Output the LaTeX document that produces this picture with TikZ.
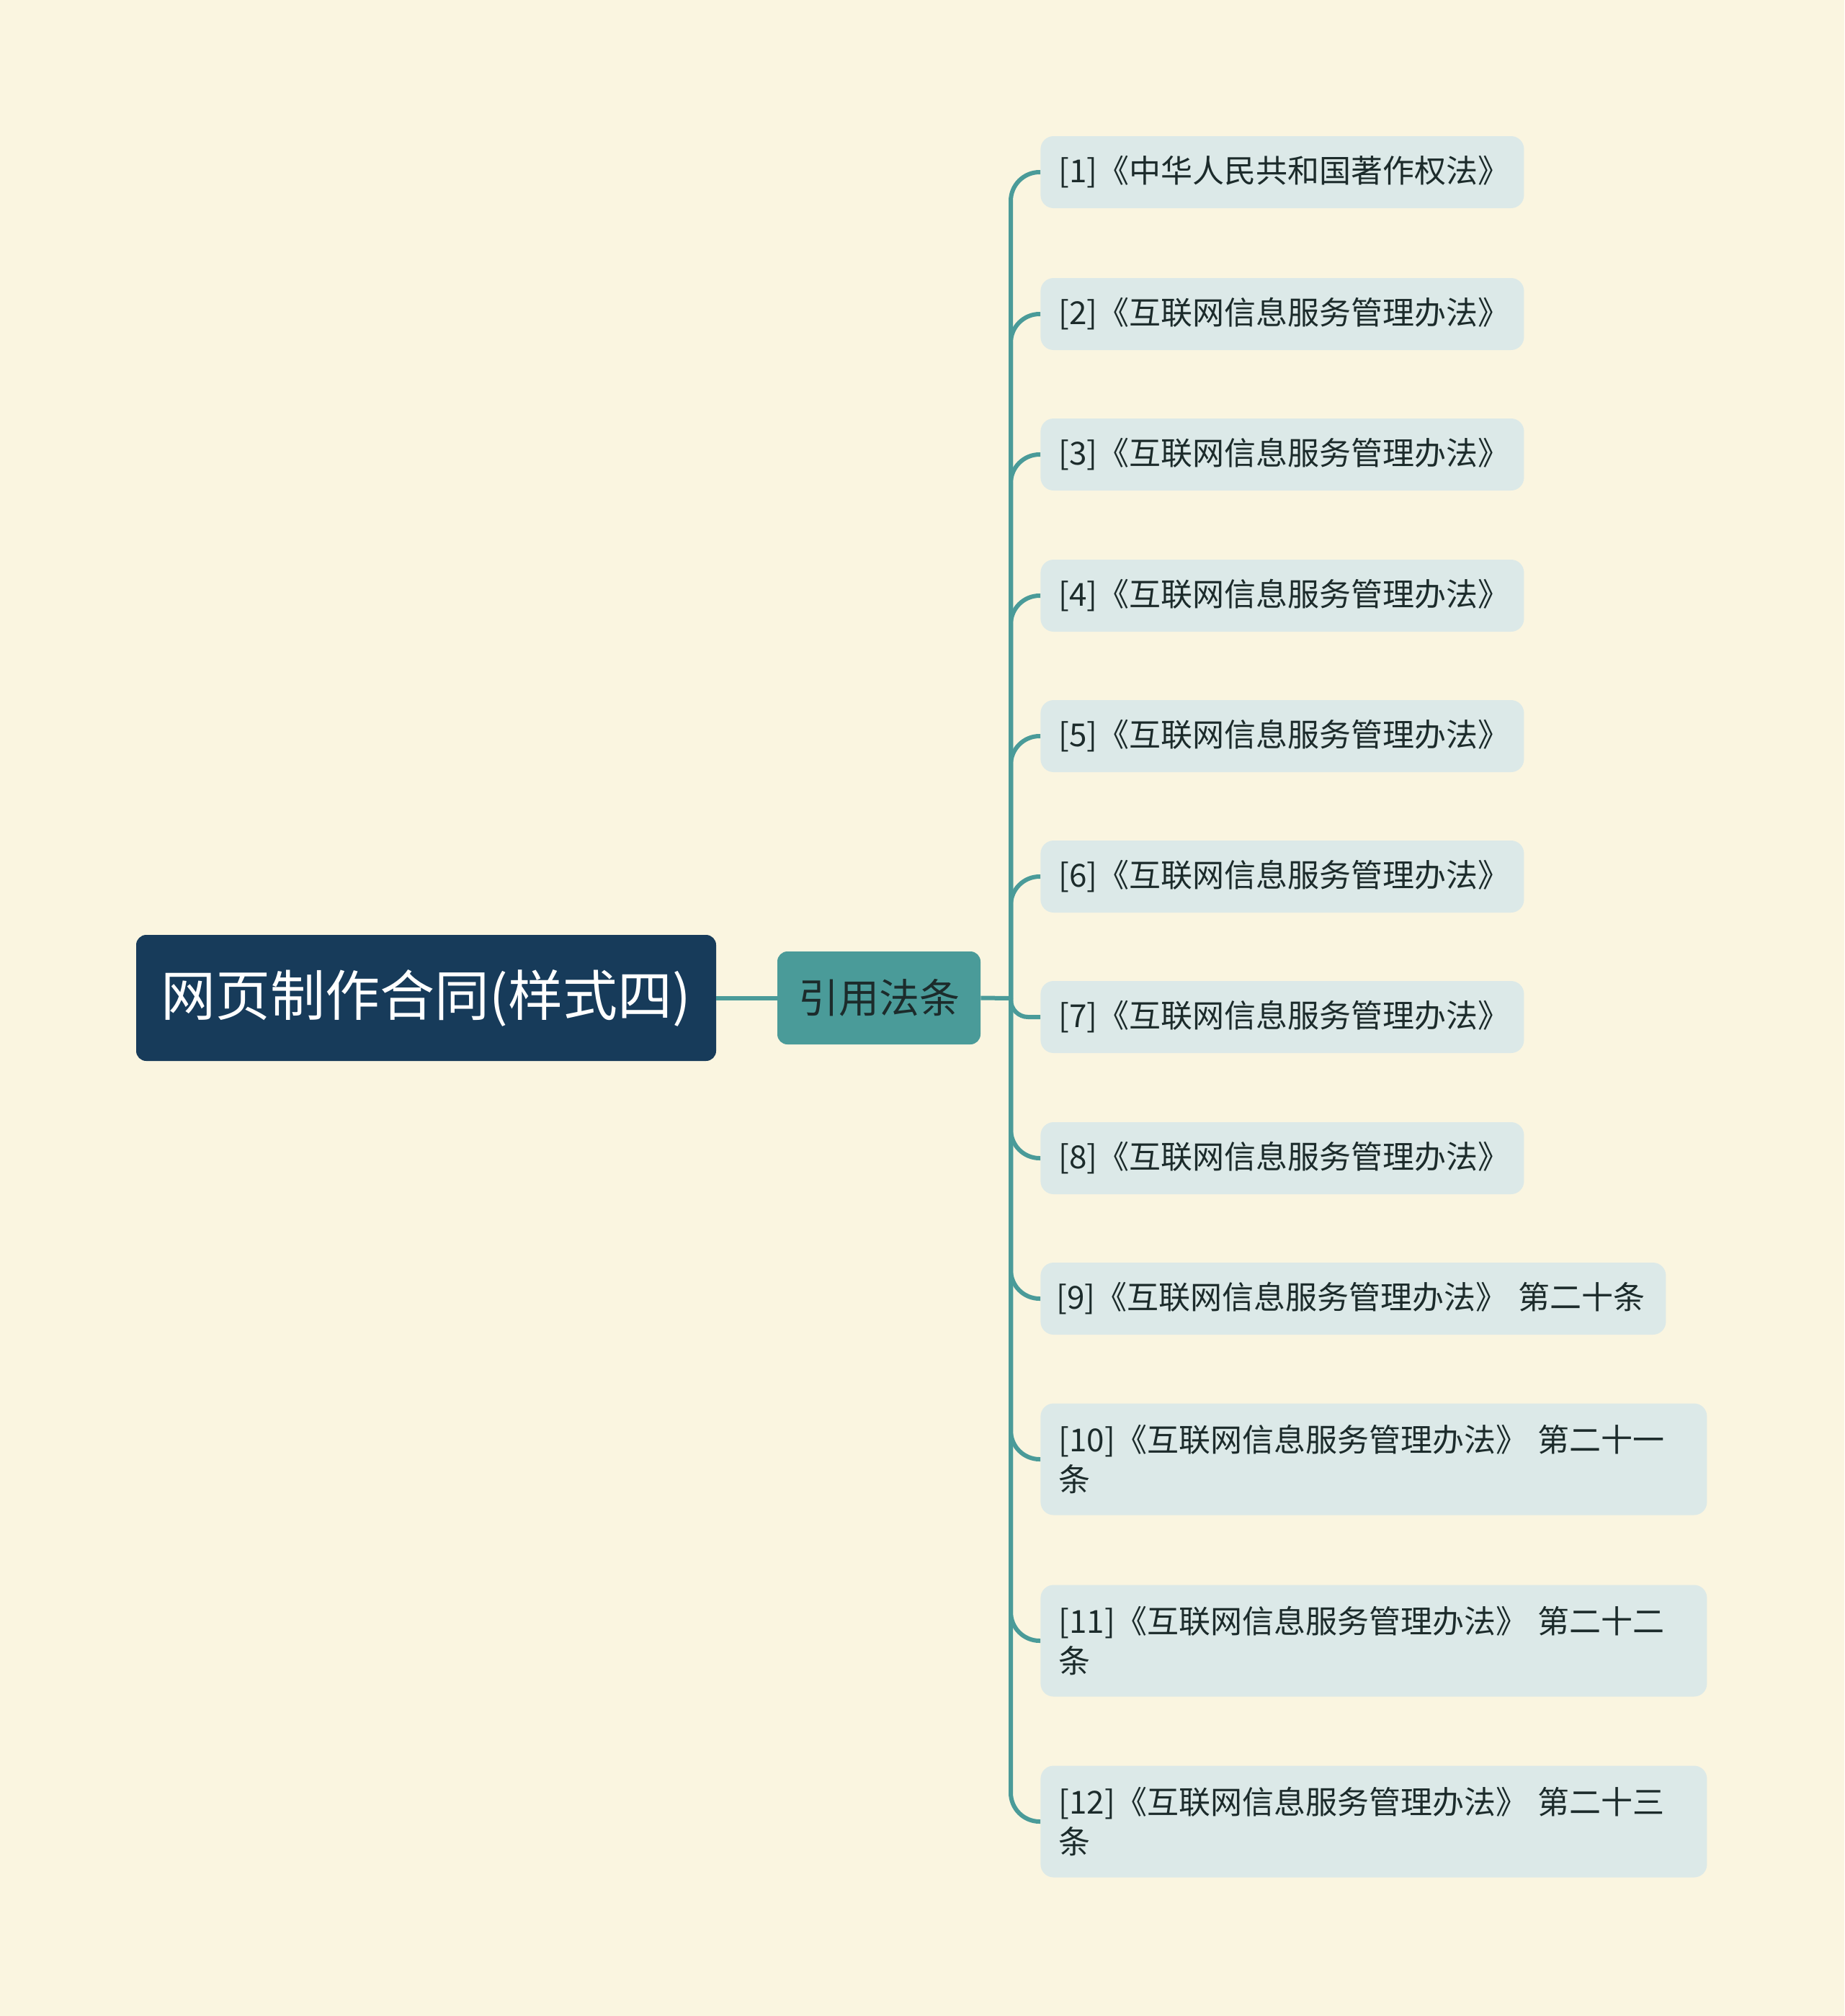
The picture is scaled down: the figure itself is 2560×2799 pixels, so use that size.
\documentclass[tikz,border=0pt]{standalone}
\usepackage{fontspec}
\setmainfont{Noto Sans CJK SC}
\definecolor{bgcream}{HTML}{FAF5E0}
\definecolor{rootnavy}{HTML}{173B5A}
\definecolor{midteal}{HTML}{4A9B99}
\definecolor{leafblue}{HTML}{DCE9E8}
\definecolor{inkdark}{HTML}{1C2B2B}
\begin{document}
\begin{tikzpicture}[x=0.5pt,y=-0.5pt]
\tikzstyle{every node}+=[inner sep=0pt]
\tikzstyle{rootbox}=[fill=rootnavy, rounded corners=7pt, text=white, font=\fontsize{38}{46}\selectfont, minimum width=402.5pt, minimum height=87.5pt]
\tikzstyle{midbox}=[fill=midteal, rounded corners=7pt, text=inkdark, font=\fontsize{28}{34}\selectfont, minimum width=141pt, minimum height=64.5pt]
\tikzstyle{leaf}=[fill=leafblue, rounded corners=9pt, anchor=west, align=left, text=inkdark, font=\fontsize{22}{27.5}\selectfont, inner xsep=12.5pt, minimum height=50pt, text width=310.5pt]
\tikzstyle{leafwide}=[leaf, text width=412pt, inner xsep=11pt]
\tikzstyle{leaftwo}=[leaf, text width=437.5pt, minimum height=77.5pt]
\tikzstyle{link}=[draw=midteal, line width=3pt]
\fill [bgcream] (0,0) rectangle (2560,2799);
\useasboundingbox (0,0) rectangle (2560,2799);
\node [rootbox] (root) at (591.5,1385.5) {网页制作合同(样式四)};
\node [midbox] (mid) at (1220,1385.5) {引用法条};
\coordinate (trunk) at (1403,1386);
\node [leaf] (l1) at (1444,239) {[1]《中华人民共和国著作权法》};
\node [leaf] (l2) at (1444,436) {[2]《互联网信息服务管理办法》};
\node [leaf] (l3) at (1444,631) {[3]《互联网信息服务管理办法》};
\node [leaf] (l4) at (1444,827) {[4]《互联网信息服务管理办法》};
\node [leaf] (l5) at (1444,1022) {[5]《互联网信息服务管理办法》};
\node [leaf] (l6) at (1444,1217) {[6]《互联网信息服务管理办法》};
\node [leaf] (l7) at (1444,1412) {[7]《互联网信息服务管理办法》};
\node [leaf] (l8) at (1444,1608) {[8]《互联网信息服务管理办法》};
\node [leafwide] (l9) at (1444,1803) {[9]《互联网信息服务管理办法》 第二十条};
\node [leaftwo] (l10) at (1444,2026) {[10]《互联网信息服务管理办法》 第二十一\\条};
\node [leaftwo] (l11) at (1444,2278) {[11]《互联网信息服务管理办法》 第二十二\\条};
\node [leaftwo] (l12) at (1444,2529) {[12]《互联网信息服务管理办法》 第二十三\\条};
\draw [link] (root.east) -- (mid.west);
\draw [link] (mid.east) -- (trunk);
\draw [link, rounded corners=20pt] (trunk) |- (l1.west);
\draw [link, rounded corners=20pt] (trunk) |- (l2.west);
\draw [link, rounded corners=20pt] (trunk) |- (l3.west);
\draw [link, rounded corners=20pt] (trunk) |- (l4.west);
\draw [link, rounded corners=20pt] (trunk) |- (l5.west);
\draw [link, rounded corners=20pt] (trunk) |- (l6.west);
\draw [link, rounded corners=12pt] (trunk) |- (l7.west);
\draw [link, rounded corners=20pt] (trunk) |- (l8.west);
\draw [link, rounded corners=20pt] (trunk) |- (l9.west);
\draw [link, rounded corners=20pt] (trunk) |- (l10.west);
\draw [link, rounded corners=20pt] (trunk) |- (l11.west);
\draw [link, rounded corners=20pt] (trunk) |- (l12.west);
\end{tikzpicture}
\end{document}
